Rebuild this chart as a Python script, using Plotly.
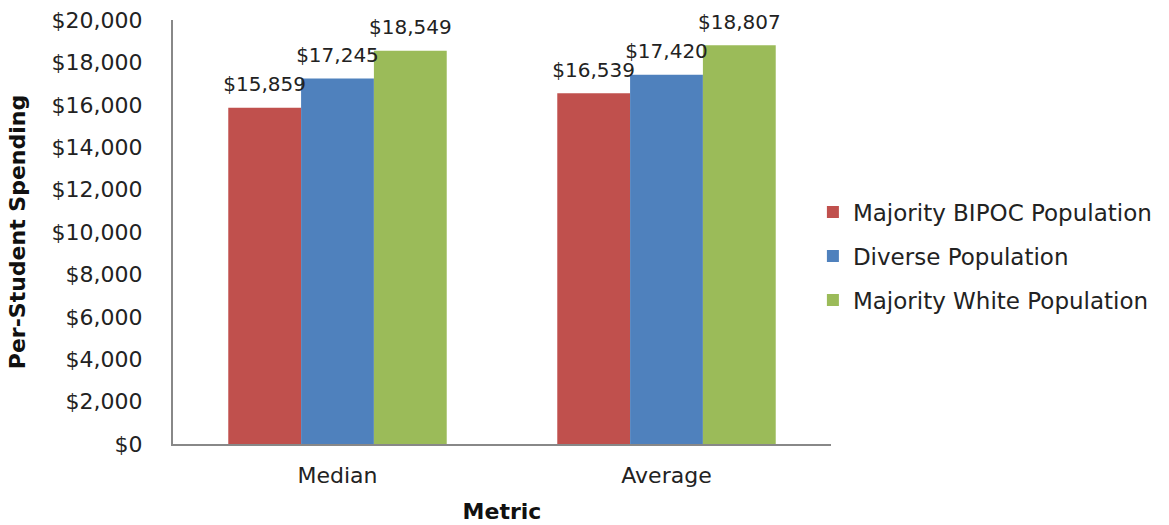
import plotly.graph_objects as go

categories = ["Median", "Average"]
series_names = ["Majority BIPOC Population", "Diverse Population", "Majority White Population"]
bipoc = [15859, 16539]
diverse = [17245, 17420]
white = [18549, 18807]
colors = ["#C0504D", "#4F81BD", "#9BBB59"]
y_tickvals = list(range(0, 20001, 2000))
y_ticktext = [f"${v:,}" for v in y_tickvals]

FONT = "'DejaVu Sans', sans-serif"

fig = go.Figure()
for i, (name, vals, col) in enumerate(zip(series_names, [bipoc, diverse, white], colors)):
    fig.add_trace(go.Bar(
        x=categories, y=vals, name=name, marker_color=col,
        marker_line_width=0, legendgroup=f"g{i}", offsetgroup=str(i),
        hovertemplate="%{x}: $%{y:,}<extra>" + name + "</extra>",
    ))
for i, (name, vals) in enumerate(zip(series_names, [bipoc, diverse, white])):
    fig.add_trace(go.Scatter(
        x=categories, y=vals, mode="markers+text", offsetgroup=str(i),
        marker=dict(size=17, opacity=0), showlegend=False, hoverinfo="skip",
        text=[f"${v:,}" for v in vals], textposition="top center",
        textfont=dict(size=20, color="#222222", family=FONT),
        cliponaxis=False,
    ))

fig.update_layout(
    width=1169, height=525,
    margin=dict(l=173, r=336, t=20, b=81),
    paper_bgcolor="white", plot_bgcolor="white",
    barmode="group", bargap=0.336, bargroupgap=0,
    scattermode="group", scattergap=0.336,
    font=dict(family=FONT, color="#222222"),
    xaxis=dict(
        title=dict(text="<b>Metric</b>", font=dict(size=22, color="#111111"), standoff=16),
        tickfont=dict(size=22),
        showline=True, linecolor="#888888", linewidth=2,
        ticks="", showgrid=False, automargin=False, ticklabelstandoff=11,
    ),
    yaxis=dict(
        title=dict(text="<b>Per-Student Spending</b>", font=dict(size=22, color="#111111"), standoff=20),
        range=[0, 20000], tickvals=y_tickvals, ticktext=y_ticktext,
        tickfont=dict(size=22),
        showline=True, linecolor="#888888", linewidth=2,
        ticks="", showgrid=False, zeroline=False, automargin=False, ticklabelstandoff=24,
    ),
    legend=dict(
        x=0.9725, y=0.443, xanchor="left", yanchor="middle",
        font=dict(size=23), tracegroupgap=11, itemsizing="constant",
        bgcolor="rgba(0,0,0,0)",
    ),
)

fig.write_html("out.html", config={"displayModeBar": False},
               post_script="document.body.style.margin='0';")
